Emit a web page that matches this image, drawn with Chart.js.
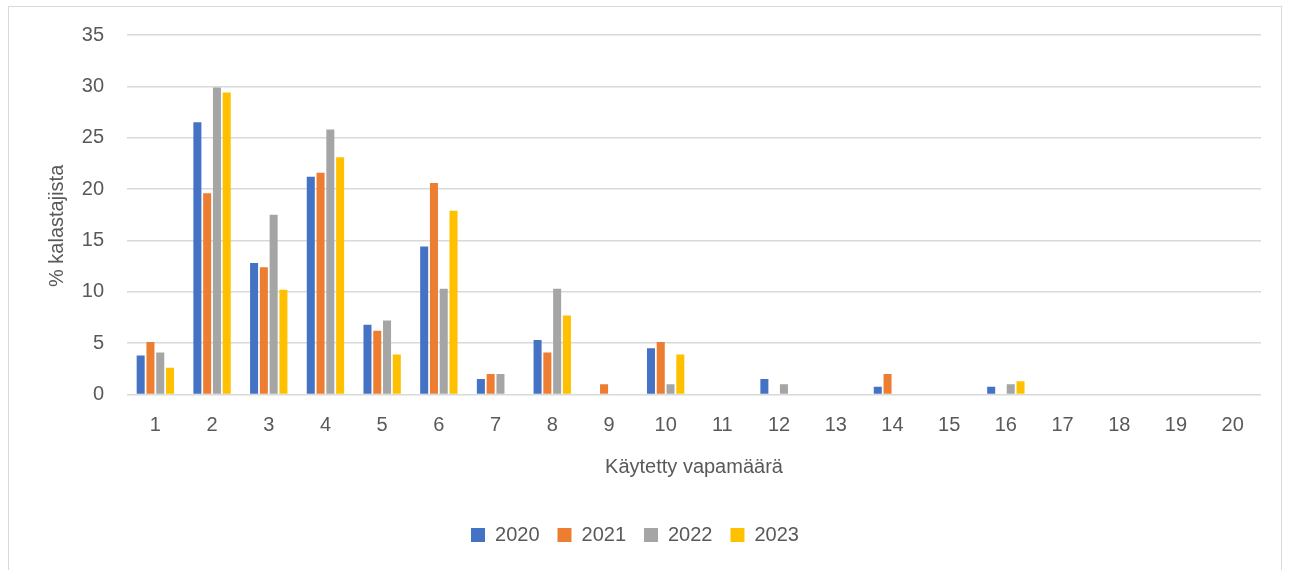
<!DOCTYPE html>
<html>
<head>
<meta charset="utf-8">
<script src="https://cdn.jsdelivr.net/npm/chart.js@4"></script>
<style>
  body { margin: 0; background: #fff; }
  #wrap { position: absolute; left: 8px; top: 6px; width: 1274px; height: 570px; border: 1px solid #d9d9d9; box-sizing: border-box; }
  canvas { display: block; }
</style>
</head>
<body>
<div id="wrap"><canvas id="vapaChart" width="1272" height="564"></canvas></div>
<script>
const rodCounts = ["1","2","3","4","5","6","7","8","9","10","11","12","13","14","15","16","17","18","19","20"];
const share2020 = [3.8, 26.5, 12.8, 21.2, 6.8, 14.4, 1.5, 5.3, 0, 4.5, 0, 1.5, 0, 0.75, 0, 0.75, 0, 0, 0, 0];
const share2021 = [5.1, 19.6, 12.4, 21.6, 6.2, 20.6, 2.0, 4.1, 1.0, 5.1, 0, 0, 0, 2.0, 0, 0, 0, 0, 0, 0];
const share2022 = [4.1, 29.9, 17.5, 25.8, 7.2, 10.3, 2.0, 10.3, 0, 1.0, 0, 1.0, 0, 0, 0, 1.0, 0, 0, 0, 0];
const share2023 = [2.6, 29.4, 10.2, 23.1, 3.9, 17.9, 0, 7.7, 0, 3.9, 0, 0, 0, 0, 0, 1.3, 0, 0, 0, 0];

const textColor = "#595959";
const fontFamily = "'Liberation Sans', Arial, sans-serif";

function series(label, data, color) {
  return {
    label: label,
    data: data,
    backgroundColor: color,
    borderWidth: 0,
    categoryPercentage: 0.69,
    barPercentage: 0.82
  };
}

new Chart("vapaChart", {
  type: "bar",
  data: {
    labels: rodCounts,
    datasets: [
      series("2020", share2020, "#4472C4"),
      series("2021", share2021, "#ED7D31"),
      series("2022", share2022, "#A5A5A5"),
      series("2023", share2023, "#FFC000")
    ]
  },
  options: {
    responsive: false,
    animation: false,
    layout: { padding: { top: 28, right: 20, bottom: 16, left: 0 } },
    plugins: {
      tooltip: { enabled: false },
      legend: {
        position: "bottom",
        labels: {
          boxWidth: 14,
          boxHeight: 14,
          padding: 18,
          color: textColor,
          font: { family: fontFamily, size: 20 }
        }
      }
    },
    scales: {
      x: {
        grid: { display: false },
        border: { display: false },
        ticks: { color: textColor, padding: 10.5, font: { family: fontFamily, size: 20 } },
        title: {
          display: true,
          text: "Käytetty vapamäärä",
          color: textColor,
          font: { family: fontFamily, size: 20 },
          padding: { top: 0, bottom: 28 }
        },
        afterFit: (scale) => { scale.height = 112.5; }
      },
      y: {
        min: 0,
        max: 35,
        ticks: { stepSize: 5, color: textColor, padding: 23, font: { family: fontFamily, size: 20 } },
        grid: { color: "#d9d9d9", lineWidth: 1.5, drawTicks: false },
        border: { display: false },
        title: {
          display: true,
          // trailing spaces nudge the rotated title a little lower, like the original
          text: "% kalastajista    ",
          color: textColor,
          font: { family: fontFamily, size: 20 },
          padding: { top: 36, bottom: 0 }
        },
        afterFit: (scale) => {
          scale.width = 118;
          scale.paddingTop = 12;
          scale.paddingBottom = 12;
        }
      }
    }
  }
});
</script>
</body>
</html>
